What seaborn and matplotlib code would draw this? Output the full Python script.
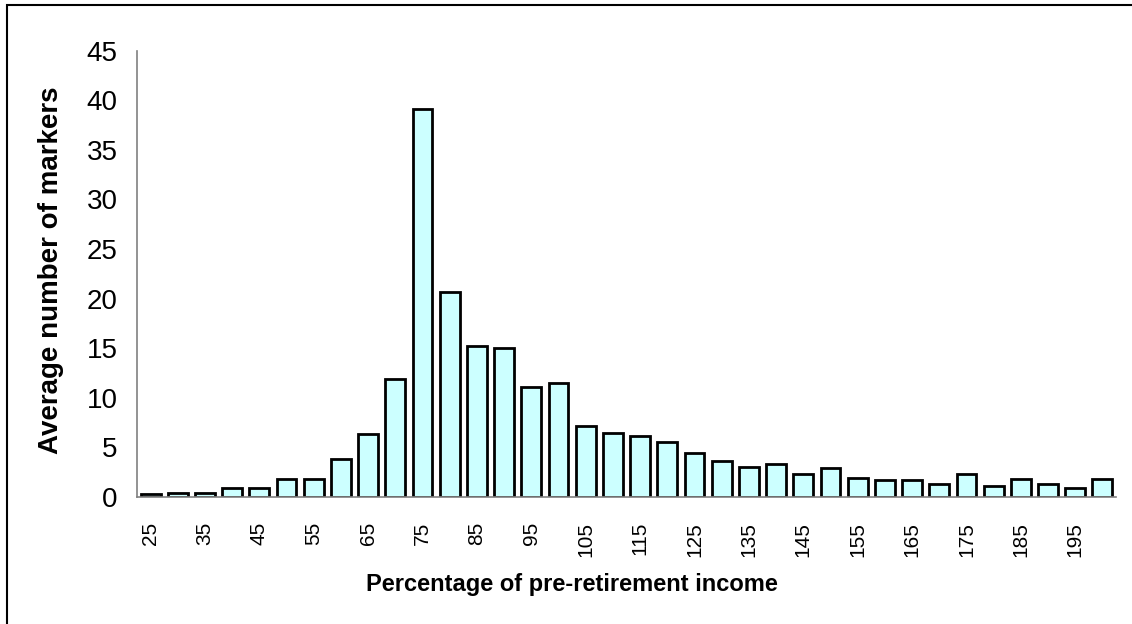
import matplotlib
matplotlib.use("Agg")
import matplotlib.pyplot as plt
import seaborn as sns
import pandas as pd
from matplotlib.patches import Rectangle

categories = [str(v) for v in range(25, 201, 5)]
values = [0.3, 0.4, 0.4, 0.87, 0.94, 1.8, 1.78, 3.8, 6.4, 11.86,
          39.1, 20.7, 15.2, 15.05, 11.05, 11.5, 7.16, 6.45, 6.15, 5.5,
          4.4, 3.63, 3.0, 3.3, 2.35, 2.92, 1.92, 1.75, 1.75, 1.28,
          2.35, 1.08, 1.81, 1.28, 0.94, 1.81]
yticks = list(range(0, 46, 5))
xlabel = "Percentage of pre-retirement income"
ylabel = "Average number of markers"

df = pd.DataFrame({"cat": categories, "val": values})

sns.set_style("white")
plt.rcParams["font.family"] = ["Liberation Sans", "DejaVu Sans"]
plt.rcParams["text.color"] = "black"

W, H = 1132, 624
fig = plt.figure(figsize=(W / 100, H / 100), dpi=100)
ax = fig.add_axes([137 / W, 1 - 497 / H, (1116 - 137) / W, (497 - 50.7) / H])

sns.barplot(data=df, x="cat", y="val", order=categories, color="#CCFFFF",
            edgecolor="black", linewidth=2.0, width=0.73, saturation=1, ax=ax)

ax.set_xlim(-0.5, len(categories) - 0.5)
ax.set_ylim(0, 45)
ax.set_yticks(yticks)
ax.set_yticklabels([str(t) for t in yticks], fontsize=20)
ax.tick_params(axis="y", direction="out", length=8, width=1, color="#808080",
               pad=6, labelcolor="black")

major = list(range(0, len(categories), 2))
ax.set_xticks(major)
ax.set_xticklabels([categories[i] for i in major], rotation=90, fontsize=15)
ax.tick_params(axis="x", which="major", length=0, pad=18, labelcolor="black")
ax.set_xticks([i - 0.5 for i in range(len(categories) + 1)], minor=True)
ax.tick_params(axis="x", which="minor", direction="out", length=7, width=1,
               color="#808080")

for side in ["top", "right"]:
    ax.spines[side].set_visible(False)
for side in ["left", "bottom"]:
    ax.spines[side].set_color("#808080")
    ax.spines[side].set_linewidth(1.2)

ax.set_xlabel("")
ax.set_ylabel("")
fig.text(572 / W, 1 - 584 / H, xlabel, ha="center", va="center",
         fontsize=17, fontweight="bold", color="black")
fig.text(51 / W, 1 - 270 / H, ylabel, ha="center", va="center", rotation=90,
         fontsize=20, fontweight="bold", color="black")

fig.patches.append(Rectangle((7 / W, -0.2), 2, (H - 5.5) / H + 0.2,
                             transform=fig.transFigure, fill=False,
                             edgecolor="black", linewidth=1.5))

fig.savefig("out.png", dpi=100, facecolor="white")
